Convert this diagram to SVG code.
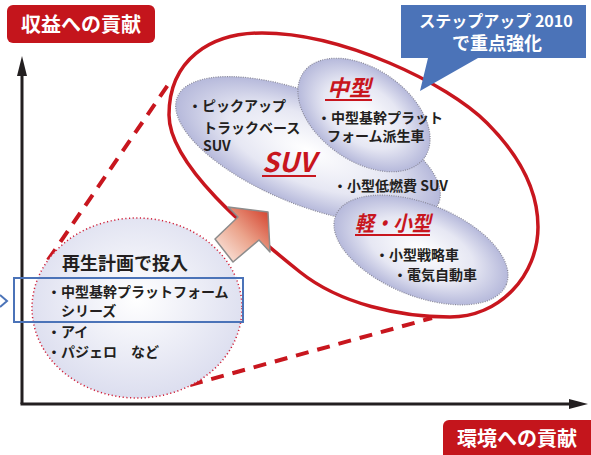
<svg xmlns="http://www.w3.org/2000/svg" width="591" height="455" viewBox="0 0 591 455">
<style>
.t{font-family:"Noto Sans CJK JP","Noto Sans",sans-serif;font-weight:700;fill:#231f20}
.w{fill:#ffffff}
.r{fill:#c8161e;font-style:italic}
.lab{fill:#c4151c}
.blob{stroke:#8a8a9a;stroke-width:1.2;stroke-dasharray:1 1.3}
.ul{stroke:#c8161e;stroke-width:2}
.dash{fill:none;stroke:#c8161e;stroke-width:4;stroke-dasharray:13 9}
.axis{stroke:#231f20;stroke-width:3;fill:none}
</style>
<defs>
<radialGradient id="gb" cx="50%" cy="50%" r="50%">
<stop offset="0" stop-color="#ffffff"/>
<stop offset="0.6" stop-color="#e6e7f3"/>
<stop offset="1" stop-color="#b6b9db"/>
</radialGradient>
<radialGradient id="gc" cx="50%" cy="45%" r="55%">
<stop offset="0" stop-color="#ffffff"/>
<stop offset="1" stop-color="#dcdeef"/>
</radialGradient>
<linearGradient id="ga" x1="0" y1="1" x2="1" y2="0">
<stop offset="0" stop-color="#fdf3ee"/>
<stop offset="0.5" stop-color="#eba48c"/>
<stop offset="1" stop-color="#d23a26"/>
</linearGradient>
</defs>

<g id="axes">
<line class="axis" x1="22" y1="404" x2="22" y2="72"/>
<polygon points="22,56 17,76 27,76" fill="#231f20"/>
<line class="axis" x1="20.5" y1="404" x2="572" y2="404"/>
<polygon points="588,404 569,399 569,409" fill="#231f20"/>
</g>

<g id="label-y">
<rect x="7" y="5" width="148" height="38" rx="6" class="lab"/>
<text x="81" y="32" class="t w" font-size="20" text-anchor="middle">収益への貢献</text>
</g>

<g id="label-x">
<rect x="443" y="420" width="160" height="45" rx="6" class="lab"/>
<text x="517" y="446" class="t w" font-size="20" text-anchor="middle">環境への貢献</text>
</g>

<g id="connectors">
<line class="dash" x1="48" y1="260" x2="170" y2="82"/>
<line class="dash" x1="190" y1="385" x2="432" y2="318"/>
</g>

<g id="focus-region">
<path d="M262,33 C342,33 447,83 487,123 C517,153 538,187 538,227 C538,275 500,317 450,317 C400,317 340,304 300,272 C250,232 169,165 169,115 C169,60 210,33 262,33 Z" fill="none" stroke="#c8161e" stroke-width="3.5"/>
</g>

<g id="blob-suv">
<ellipse cx="308" cy="150" rx="141" ry="55" transform="rotate(22 308 150)" fill="url(#gb)" class="blob"/>
<text x="188" y="111" class="t" font-size="14">・ピックアップ</text>
<text x="203" y="133" class="t" font-size="14">トラックベース</text>
<text x="203" y="151" class="t" font-size="14">SUV</text>
<text x="262" y="172" class="t r" font-size="27">SUV</text>
<line class="ul" x1="262" y1="176" x2="316" y2="176"/>
<text x="333" y="191" class="t" font-size="14">・小型低燃費 SUV</text>
</g>

<g id="blob-chugata">
<ellipse cx="364" cy="115" rx="74" ry="46" transform="rotate(35 364 115)" fill="url(#gb)" class="blob"/>
<text x="327" y="96" class="t r" font-size="22">中型</text>
<line class="ul" x1="325" y1="100" x2="372" y2="100"/>
<text x="317" y="123" class="t" font-size="14">・中型基幹プラット</text>
<text x="327" y="141" class="t" font-size="14">フォーム派生車</text>
</g>

<g id="blob-kei">
<ellipse cx="421" cy="250" rx="92" ry="46" transform="rotate(22 421 250)" fill="url(#gb)" class="blob"/>
<text x="355" y="231" class="t r" font-size="21" textLength="76" lengthAdjust="spacingAndGlyphs">軽・小型</text>
<line class="ul" x1="355" y1="235" x2="430" y2="235"/>
<text x="375" y="260" class="t" font-size="14">・小型戦略車</text>
<text x="393" y="280" class="t" font-size="14">・電気自動車</text>
</g>

<g id="callout">
<polygon points="401,5 586,5 586,58 478,58 420,91 428,58 401,58" fill="#4b73b8"/>
<text x="496" y="27" class="t w" font-size="16" text-anchor="middle">ステップアップ 2010</text>
<text x="497" y="50" class="t w" font-size="18" text-anchor="middle">で重点強化</text>
</g>

<g id="circle-saisei">
<ellipse cx="137" cy="308" rx="105" ry="90" fill="url(#gc)" stroke="#d0213a" stroke-width="1.5" stroke-dasharray="1.2 2.5"/>
<text x="62" y="270" class="t" font-size="18">再生計画で投入</text>
<text x="47" y="297" class="t" font-size="14">・中型基幹プラットフォーム</text>
<text x="61" y="316" class="t" font-size="14">シリーズ</text>
<text x="47" y="337" class="t" font-size="14">・アイ</text>
<text x="47" y="357" class="t" font-size="14">・パジェロ　など</text>
</g>

<g id="highlight">
<rect x="14" y="278" width="229" height="44" fill="none" stroke="#4b73b8" stroke-width="2"/>
<polyline points="0,295 7,301 0,307" fill="none" stroke="#4b73b8" stroke-width="2"/>
</g>

<g id="arrow">
<polygon points="268,212 270,252 259,240 233,262 215,239 238,217 228,207" fill="url(#ga)" stroke="#8c8c8c" stroke-width="1.5" stroke-linejoin="round"/>
</g>
</svg>
